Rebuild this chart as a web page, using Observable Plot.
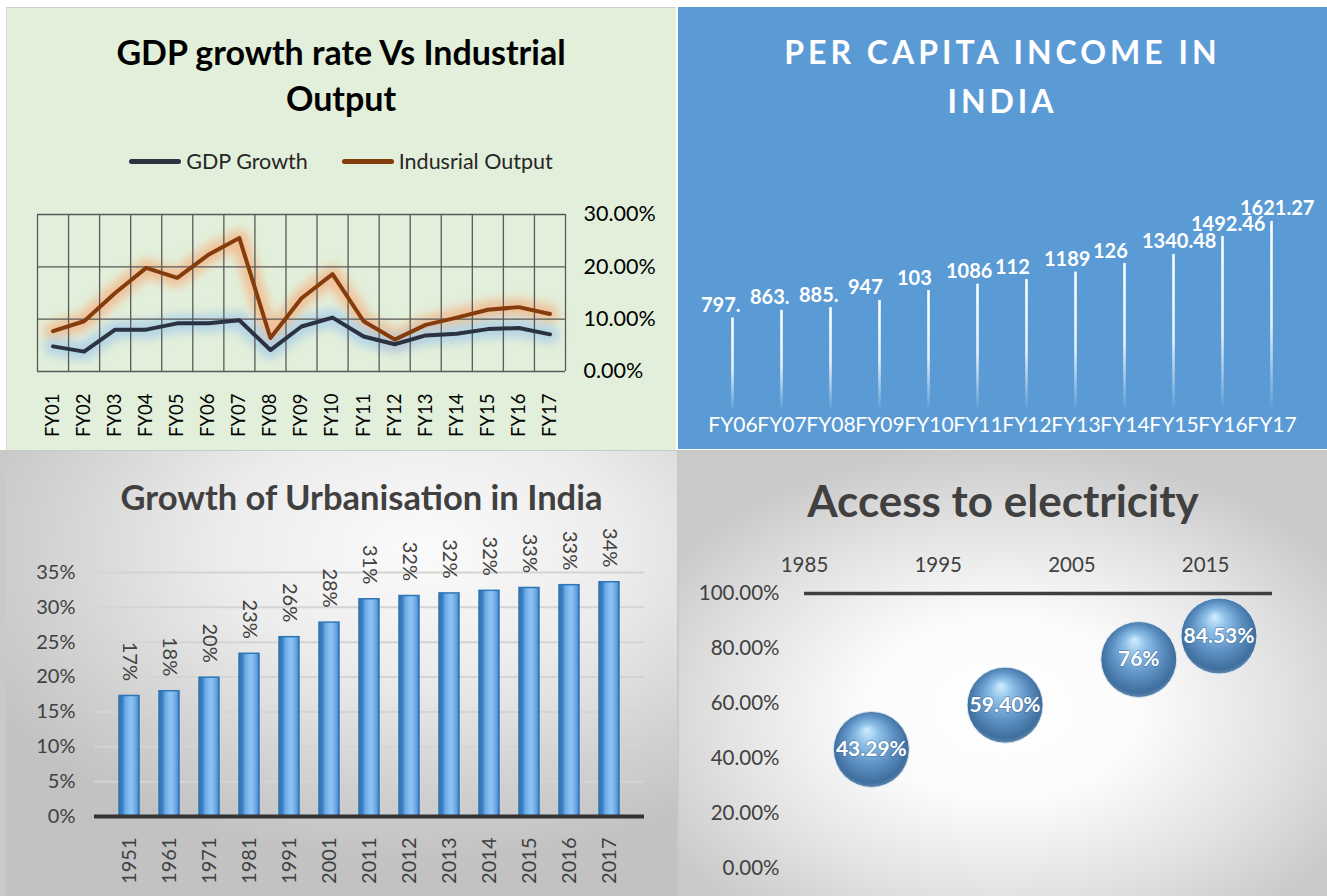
<!DOCTYPE html>
<html>
<head>
<meta charset="utf-8">
<script src="https://cdn.jsdelivr.net/npm/d3@7"></script>
<script src="https://cdn.jsdelivr.net/npm/@observablehq/plot@0.6"></script>
<style>
  html, body { margin: 0; padding: 0; }
  body { width: 1327px; height: 896px; position: relative; overflow: hidden; background: #ffffff; font-family: Lato, "Open Sans", sans-serif; }
  .panel { position: absolute; overflow: hidden; }
  #p1 { left: 6px; top: 7px; width: 670px; height: 443px; background: #e2efda; box-shadow: inset 0 1px 0 #cfcfcf, inset 1px 0 0 #d6d6d6; }
  #p2 { left: 678px; top: 7px; width: 649px; height: 442px; background: #5b9bd5; }
  #bottomBg { position: absolute; left: 0; top: 450px; width: 1327px; height: 446px; background: #c9c9c9; }
  #p3 { left: 6px; top: 451px; width: 671px; height: 445px;
        background: radial-gradient(ellipse 75% 70% at 62% 22%, #fbfbfb 0%, #ececec 40%, #d2d2d2 75%, #c2c2c2 100%); }
  #p4 { left: 679px; top: 451px; width: 648px; height: 445px;
        background: radial-gradient(ellipse 62% 60% at 50% 58%, #ffffff 0%, #fbfbfb 35%, #e2e2e2 70%, #c9c9c9 100%); }
  .title { position: absolute; left: 0; width: 100%; text-align: center; font-weight: bold; white-space: nowrap; }
  .plotbox { position: absolute; left: 0; }
  #legend1 { position: absolute; top: 141px; left: 0; width: 100%; display: flex; justify-content: center; align-items: center; font-size: 21.5px; color: #262626; }
  .sw { display: inline-block; width: 52px; height: 5px; border-radius: 3px; margin-right: 5px; }
</style>
</head>
<body>
<svg width="0" height="0" style="position:absolute;left:0;top:0">
  <defs>
    <linearGradient id="whiteFade" x1="0" y1="0" x2="0" y2="1">
      <stop offset="0" stop-color="#ffffff" stop-opacity="1"/>
      <stop offset="0.55" stop-color="#ffffff" stop-opacity="0.85"/>
      <stop offset="1" stop-color="#ffffff" stop-opacity="0"/>
    </linearGradient>
    <linearGradient id="urbanBar" x1="0" y1="0" x2="1" y2="0">
      <stop offset="0" stop-color="#2f6ea8"/>
      <stop offset="0.2" stop-color="#3f84c8"/>
      <stop offset="0.3" stop-color="#6aa8e4"/>
      <stop offset="0.6" stop-color="#90c6f5"/>
      <stop offset="0.85" stop-color="#6aa8e4"/>
      <stop offset="1" stop-color="#3d7fc0"/>
    </linearGradient>
    <radialGradient id="sphere" cx="0.5" cy="0.48" r="0.55" fx="0.44" fy="0.24">
      <stop offset="0" stop-color="#d2eeff"/>
      <stop offset="0.25" stop-color="#8fc1e9"/>
      <stop offset="0.6" stop-color="#5d90c3"/>
      <stop offset="0.88" stop-color="#3f6f9e"/>
      <stop offset="1" stop-color="#6f94b6"/>
    </radialGradient>
    <filter id="glow" x="-10%" y="-40%" width="120%" height="180%">
      <feGaussianBlur stdDeviation="5"/>
    </filter>
  </defs>
</svg>

<div id="bottomBg"></div>

<div class="panel" id="p1">
  <div class="title" style="top:22px;font-size:34px;line-height:46px;color:#000;">GDP growth rate Vs Industrial<br>Output</div>
  <div id="legend1">
    <span class="sw" style="background:#2b3240"></span><span>GDP Growth</span>
    <span style="display:inline-block;width:34px"></span>
    <span class="sw" style="background:#843c0c"></span><span>Indusrial Output</span>
  </div>
  <div class="plotbox" id="plot1" style="top:184px;width:670px;"></div>
</div>

<div class="panel" id="p2">
  <div class="title" style="top:20px;font-size:32px;line-height:49px;color:#fff;letter-spacing:4px;">PER CAPITA INCOME IN<br>INDIA</div>
  <div class="plotbox" id="plot2" style="top:150px;width:649px;"></div>
</div>

<div class="panel" id="p3">
  <div class="title" style="top:26px;left:20px;font-size:34.5px;line-height:40px;color:#404040;">Growth of Urbanisation in India</div>
  <div class="plotbox" id="plot3" style="top:54px;width:671px;"></div>
</div>

<div class="panel" id="p4">
  <div class="title" style="top:24px;font-size:44px;line-height:50px;color:#404040;">Access to electricity</div>
  <div class="plotbox" id="plot4" style="top:89px;width:648px;"></div>
</div>

<script>
// ---------- Data ----------
const fyGdp = ["FY01","FY02","FY03","FY04","FY05","FY06","FY07","FY08","FY09","FY10","FY11","FY12","FY13","FY14","FY15","FY16","FY17"];
const gdpGrowth = [4.8, 3.8, 8.0, 8.0, 9.2, 9.2, 9.8, 4.1, 8.6, 10.3, 6.7, 5.2, 6.9, 7.2, 8.1, 8.3, 7.1];
const industrialOutput = [7.7, 9.6, 15.0, 19.8, 17.9, 22.3, 25.5, 6.4, 14.0, 18.6, 9.6, 6.1, 8.9, 10.3, 11.8, 12.3, 11.0];
const gdpTicks = [0, 10, 20, 30];

const fyIncome = ["FY06","FY07","FY08","FY09","FY10","FY11","FY12","FY13","FY14","FY15","FY16","FY17"];
const perCapitaIncome = [797.35, 863.5, 885.9, 947.2, 1031.6, 1086.2, 1125.4, 1189.1, 1262.3, 1340.48, 1492.46, 1621.27];
// data labels as they appear in the chart (Excel truncates the overlapping ones)
const perCapitaLabels = ["797.", "863.", "885.", "947", "103", "1086", "112", "1189", "126", "1340.48", "1492.46", "1621.27"];

const censusYears = ["1951","1961","1971","1981","1991","2001","2011","2012","2013","2014","2015","2016","2017"];
const urbanShare = [17.29, 17.97, 19.91, 23.34, 25.72, 27.81, 31.16, 31.63, 32.0, 32.37, 32.78, 33.18, 33.6];
const urbanTicks = [0, 5, 10, 15, 20, 25, 30, 35];

const elecYears = [1990, 2000, 2010, 2016];
const elecAccess = [43.29, 59.40, 76, 84.53];
const elecLabels = ["43.29%", "59.40%", "76%", "84.53%"];
const elecXTicks = [1985, 1995, 2005, 2015];
const elecYTicks = [0, 20, 40, 60, 80, 100];

const baseStyle = {background: "transparent", overflow: "visible", fontFamily: "Lato, 'Open Sans', sans-serif"};

// ---------- Panel 1: GDP vs Industrial ----------
const gdpRows = fyGdp.map((fy, i) => ({i, fy, gdp: gdpGrowth[i], ind: industrialOutput[i]}));
const plot1 = Plot.plot({
  width: 670, height: 253,
  marginLeft: 31, marginRight: 111, marginTop: 23, marginBottom: 73,
  style: {...baseStyle, fontSize: "21.5px", color: "#000"},
  x: {type: "linear", domain: [-0.5, fyGdp.length - 0.5], ticks: d3.range(fyGdp.length),
      tickFormat: i => fyGdp[i], tickRotate: -90, tickSize: 0, tickPadding: 22, label: null},
  y: {domain: [0, 30], axis: "right", ticks: gdpTicks, tickFormat: d => d.toFixed(2) + "%",
      tickSize: 0, tickPadding: 18, label: null},
  marks: [
    Plot.lineY(gdpRows, {x: "i", y: "ind", stroke: "#f4b183", strokeWidth: 18, strokeOpacity: 0.75}),
    Plot.lineY(gdpRows, {x: "i", y: "gdp", stroke: "#a9cde9", strokeWidth: 18, strokeOpacity: 0.8}),
    Plot.ruleY(gdpTicks, {stroke: "#595959", strokeWidth: 1.3}),
    Plot.ruleX(d3.range(-0.5, fyGdp.length), {stroke: "#595959", strokeWidth: 1.3}),
    Plot.lineY(gdpRows, {x: "i", y: "gdp", stroke: "#2b3240", strokeWidth: 4}),
    Plot.lineY(gdpRows, {x: "i", y: "ind", stroke: "#843c0c", strokeWidth: 4})
  ]
});
document.getElementById("plot1").appendChild(plot1);
{
  const lines = plot1.querySelectorAll('g[aria-label="line"]');
  if (lines[0]) lines[0].setAttribute("filter", "url(#glow)");
  if (lines[1]) lines[1].setAttribute("filter", "url(#glow)");
  plot1.querySelectorAll('g[aria-label^="x-axis"]').forEach(g => { g.style.fontSize = "18.5px"; });
}

// ---------- Panel 2: Per capita income ----------
const incomeRows = fyIncome.map((fy, i) => ({fy, v: perCapitaIncome[i], label: perCapitaLabels[i]}));
const plot2 = Plot.plot({
  width: 649, height: 292,
  marginLeft: 27, marginRight: 29, marginTop: 43, marginBottom: 38,
  style: {...baseStyle, fontSize: "21px", color: "#ffffff"},
  x: {domain: fyIncome, padding: 0, tickSize: 0, tickPadding: 6, label: null},
  y: {domain: [0, 1800], axis: null},
  marks: [
    Plot.barY(incomeRows, {x: "fy", y: "v", fill: "url(#whiteFade)", insetLeft: 23.2, insetRight: 23.2}),
    Plot.text(incomeRows, {x: "fy", y: "v", text: "label", textAnchor: "start", lineAnchor: "bottom", dx: -32, dy: -6,
      fill: "#ffffff", fontWeight: "bold", fontSize: 20})
  ]
});
document.getElementById("plot2").appendChild(plot2);

// ---------- Panel 3: Urbanisation ----------
const urbanRows = censusYears.map((year, i) => ({year, v: urbanShare[i]}));
const plot3 = Plot.plot({
  width: 671, height: 391,
  marginLeft: 88, marginRight: 33, marginTop: 67, marginBottom: 80,
  style: {...baseStyle, fontSize: "20px", color: "#404040"},
  x: {domain: censusYears, paddingInner: 0.5, paddingOuter: 0.46, tickRotate: -90, tickSize: 0, tickPadding: 21, label: null},
  y: {domain: [0, 35], ticks: urbanTicks, tickFormat: d => d + "%", tickSize: 0, tickPadding: 19, label: null},
  marks: [
    Plot.ruleY(urbanTicks.filter(t => t > 0), {stroke: "#d4d4d4", strokeWidth: 2}),
    Plot.barY(urbanRows, {x: "year", y: "v", fill: "url(#urbanBar)", stroke: "#2e75b6", strokeWidth: 1.5}),
    Plot.ruleY([0], {stroke: "#333333", strokeWidth: 4}),
    Plot.text(urbanRows, {x: "year", y: "v", text: d => Math.round(d.v) + "%", rotate: 90, textAnchor: "end",
      dy: -15, fill: "#404040", fontSize: 20})
  ]
});
document.getElementById("plot3").appendChild(plot3);

// ---------- Panel 4: Access to electricity ----------
const elecRows = elecYears.map((year, i) => ({year, v: elecAccess[i], label: elecLabels[i]}));
const plot4 = Plot.plot({
  width: 648, height: 356,
  marginLeft: 125, marginRight: 55, marginTop: 53, marginBottom: 28,
  style: {...baseStyle, fontSize: "20.5px", color: "#404040"},
  x: {domain: [1985, 2020], axis: "top", ticks: elecXTicks, tickFormat: d => String(d), tickSize: 0, tickPadding: 22, label: null},
  y: {domain: [0, 100], ticks: elecYTicks, tickFormat: d => d.toFixed(2) + "%", tickSize: 0, tickPadding: 25, label: null},
  marks: [
    Plot.ruleY([100], {stroke: "#3f3f3f", strokeWidth: 3.5}),
    Plot.dot(elecRows, {x: "year", y: "v", r: 38, fill: "url(#sphere)", stroke: "#dce8f3", strokeWidth: 1}),
    Plot.text(elecRows, {x: "year", y: "v", text: "label", fill: "#ffffff", fontWeight: "bold", fontSize: 21,
      stroke: "#3d6a96", strokeWidth: 1.5, strokeOpacity: 0.6, paintOrder: "stroke"})
  ]
});
document.getElementById("plot4").appendChild(plot4);
</script>
</body>
</html>
